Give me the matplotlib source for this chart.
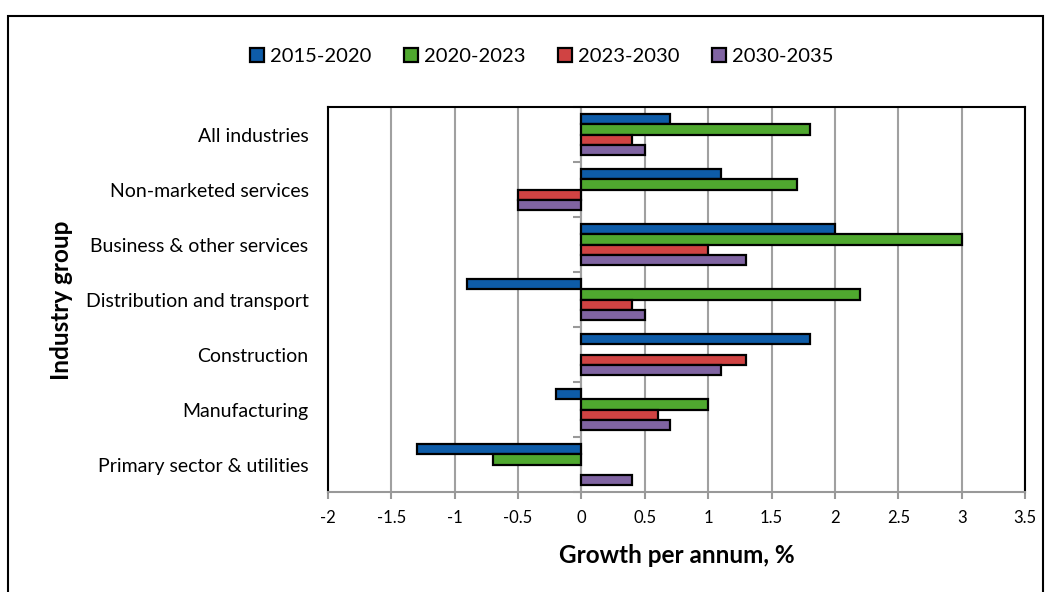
import matplotlib.pyplot as plt
import numpy as np
from matplotlib.patches import Rectangle

plt.rcParams['font.family'] = ['Lato', 'DejaVu Sans']

industries = ['All industries', 'Non-marketed services', 'Business & other services',
              'Distribution and transport', 'Construction', 'Manufacturing',
              'Primary sector & utilities']
periods = ['2015-2020', '2020-2023', '2023-2030', '2030-2035']
g_2015_2020 = [0.7, 1.1, 2.0, -0.9, 1.8, -0.2, -1.3]
g_2020_2023 = [1.8, 1.7, 3.0, 2.2, 0.0, 1.0, -0.7]
g_2023_2030 = [0.4, -0.5, 1.0, 0.4, 1.3, 0.6, 0.0]
g_2030_2035 = [0.5, -0.5, 1.3, 0.5, 1.1, 0.7, 0.4]
colors = ['#0E5CA8', '#4FA82F', '#D04343', '#8064A2']

series = [g_2015_2020, g_2020_2023, g_2023_2030, g_2030_2035]

fig = plt.figure(figsize=(10.5, 5.92), dpi=100)
ax = fig.add_axes([0.3124, 0.1689, 0.6638, 0.6503])

y = np.arange(len(industries))
h = 0.186
for i, (vals, c, lab) in enumerate(zip(series, colors, periods)):
    pos = y - 1.5 * h + i * h
    v = np.array(vals)
    mask = v != 0  # zero values have no bar in the original
    ax.barh(pos[mask], v[mask], height=h, color=c, edgecolor='black', linewidth=1.6,
            label=lab, zorder=3)

ax.set_xlim(-2, 3.5)
ax.set_ylim(len(industries) - 0.5, -0.5)
ax.set_xticks(np.arange(-2, 3.51, 0.5))
ax.set_xticklabels(['-2', '-1.5', '-1', '-0.5', '0', '0.5', '1', '1.5', '2', '2.5', '3', '3.5'])
ax.set_yticks(y)
ax.set_yticklabels(industries, fontsize=14)
ax.tick_params(axis='y', length=0, pad=14)
ax.tick_params(axis='x', length=5, color='#999999', width=1.5, labelsize=12, pad=8)
ax.grid(axis='x', color='#A0A0A0', linewidth=1.5, zorder=0)

for s in ['left', 'top', 'right']:
    ax.spines[s].set_color('black')
    ax.spines[s].set_linewidth(1.5)
ax.spines['bottom'].set_color('#999999')
ax.spines['bottom'].set_linewidth(1.5)

# category axis crossing at zero
zero_frac = 2 / 5.5
sec = ax.secondary_yaxis(zero_frac)
sec.set_yticks(np.arange(-0.5, len(industries) - 0.4, 1.0))
sec.set_yticklabels([])
sec.tick_params(length=6, color='#999999', width=1.5)
sec.spines['left'].set_color('#A0A0A0')
sec.spines['left'].set_linewidth(1.5)

ax.set_xlabel('Growth per annum, %', fontsize=17.5, fontweight='bold', labelpad=13)
fig.text(0.059, 0.493, 'Industry group', rotation=90, fontsize=17.5, fontweight='bold',
         ha='center', va='center')

handles, labels = ax.get_legend_handles_labels()
fig.legend(handles, labels, loc='center', bbox_to_anchor=(0.516, 0.905), ncol=4,
           frameon=False, fontsize=14.5, handlelength=0.7, handleheight=0.7,
           columnspacing=1.6, handletextpad=0.3)

fig.patches.append(Rectangle((0.0076, -0.1), 0.9857, 1.073, transform=fig.transFigure,
                             fill=False, edgecolor='black', linewidth=1.5))

fig.savefig('out.png', dpi=100)
